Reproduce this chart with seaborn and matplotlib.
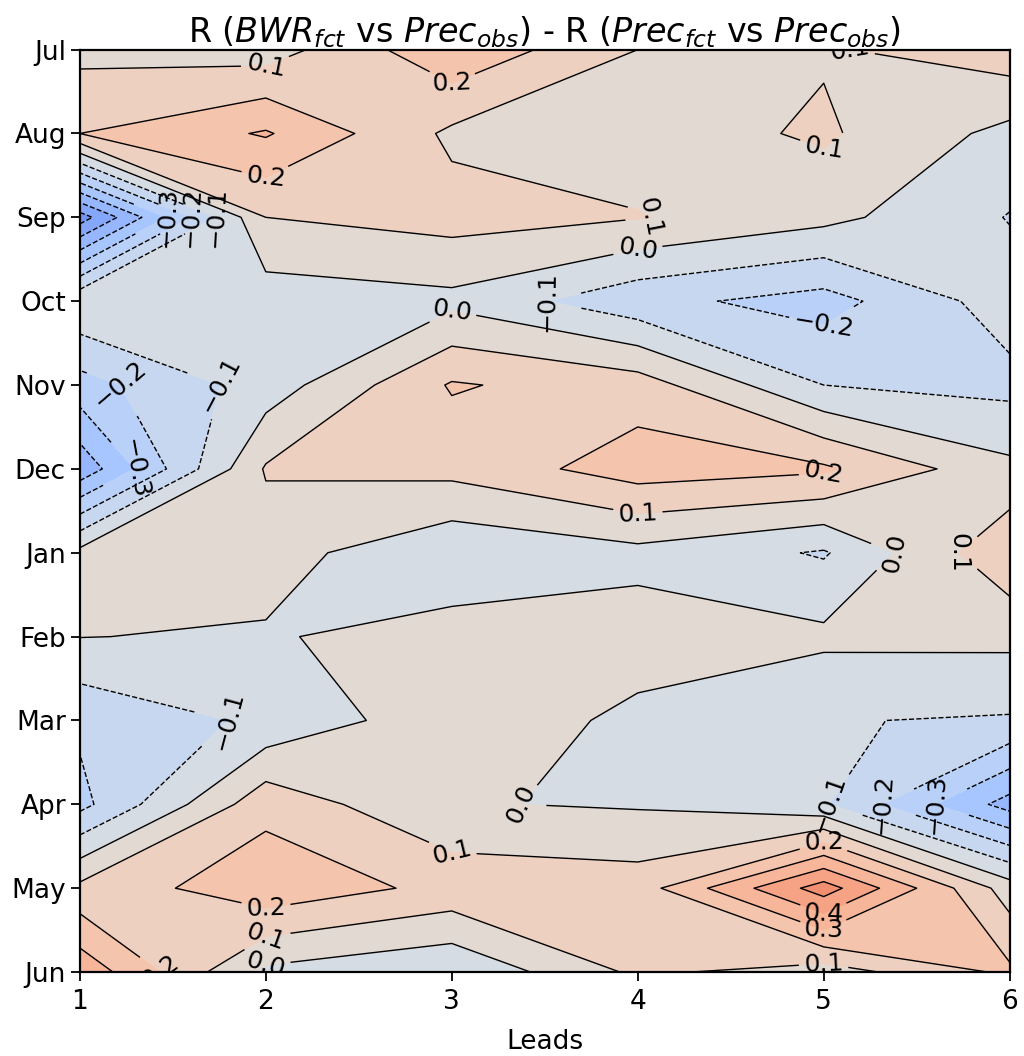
import numpy as np
import matplotlib
matplotlib.use("Agg")
import matplotlib.pyplot as plt
import seaborn as sns

# leads on x, target months on y (Jul at top)
leads = [1, 2, 3, 4, 5, 6]
months = ['Jul', 'Aug', 'Sep', 'Oct', 'Nov', 'Dec',
          'Jan', 'Feb', 'Mar', 'Apr', 'May', 'Jun']

# R difference per month, one value per lead
r_jul = [0.07, 0.05, 0.28, 0.10, 0.09, 0.16]
r_aug = [0.20, 0.31, 0.08, 0.05, 0.115, -0.03]
r_sep = [-0.65, 0.10, 0.14, 0.105, 0.03, -0.105]
r_oct = [-0.01, -0.054, -0.027, -0.17, -0.24, -0.05]
r_nov = [-0.24, -0.055, 0.21, 0.15, -0.10, -0.13]
r_dec = [-0.47, 0.11, 0.13, 0.25, 0.217, 0.025]
r_jan = [0.03, 0.04, -0.08, -0.03, -0.11, 0.18]
r_feb = [0.002, -0.01, 0.045, 0.047, 0.022, 0.026]
r_mar = [-0.18, -0.08, 0.068, -0.023, -0.095, -0.11]
r_apr = [-0.23, 0.167, 0.006, -0.01, -0.09, -0.44]
r_may = [0.126, 0.27, 0.17, 0.15, 0.55, 0.05]
r_jun = [0.37, -0.024, -0.088, 0.12, 0.05, 0.22]

levels = np.round(np.arange(-10, 11) * 0.1, 1)


def main():
    sns.set_style("ticks")
    plt.rcParams['font.family'] = ['DejaVu Sans']

    Z = np.array([r_jul, r_aug, r_sep, r_oct, r_nov, r_dec,
                  r_jan, r_feb, r_mar, r_apr, r_may, r_jun])
    y = np.arange(len(months))

    fig = plt.figure(figsize=(10.24, 10.56), dpi=100)
    ax = fig.add_axes([0.078, 0.0795, 0.908, 0.8735])

    ax.contourf(leads, y, Z, levels=levels, cmap='coolwarm')
    cs = ax.contour(leads, y, Z, levels=levels, colors='k', linewidths=1.0)
    ax.clabel(cs, inline=True, fontsize=18)

    ax.set_ylim(len(months) - 1, 0)
    ax.set_yticks(y)
    ax.set_yticklabels(months)
    ax.set_xticks(leads)
    ax.tick_params(labelsize=19, length=6.5, width=1.3, color='k', labelcolor='k')
    ax.tick_params(axis='x', pad=5.5)
    for sp in ax.spines.values():
        sp.set_linewidth(1.6)
        sp.set_color('k')

    ax.set_xlabel('Leads', fontsize=19, color='k', labelpad=10)
    ax.set_title(r'R ($BWR_{fct}$ vs $Prec_{obs}$) - R ($Prec_{fct}$ vs $Prec_{obs}$)',
                 fontsize=24, color='k', pad=4)

    fig.savefig('out.png', dpi=100)
    plt.close(fig)


if __name__ == '__main__':
    main()
